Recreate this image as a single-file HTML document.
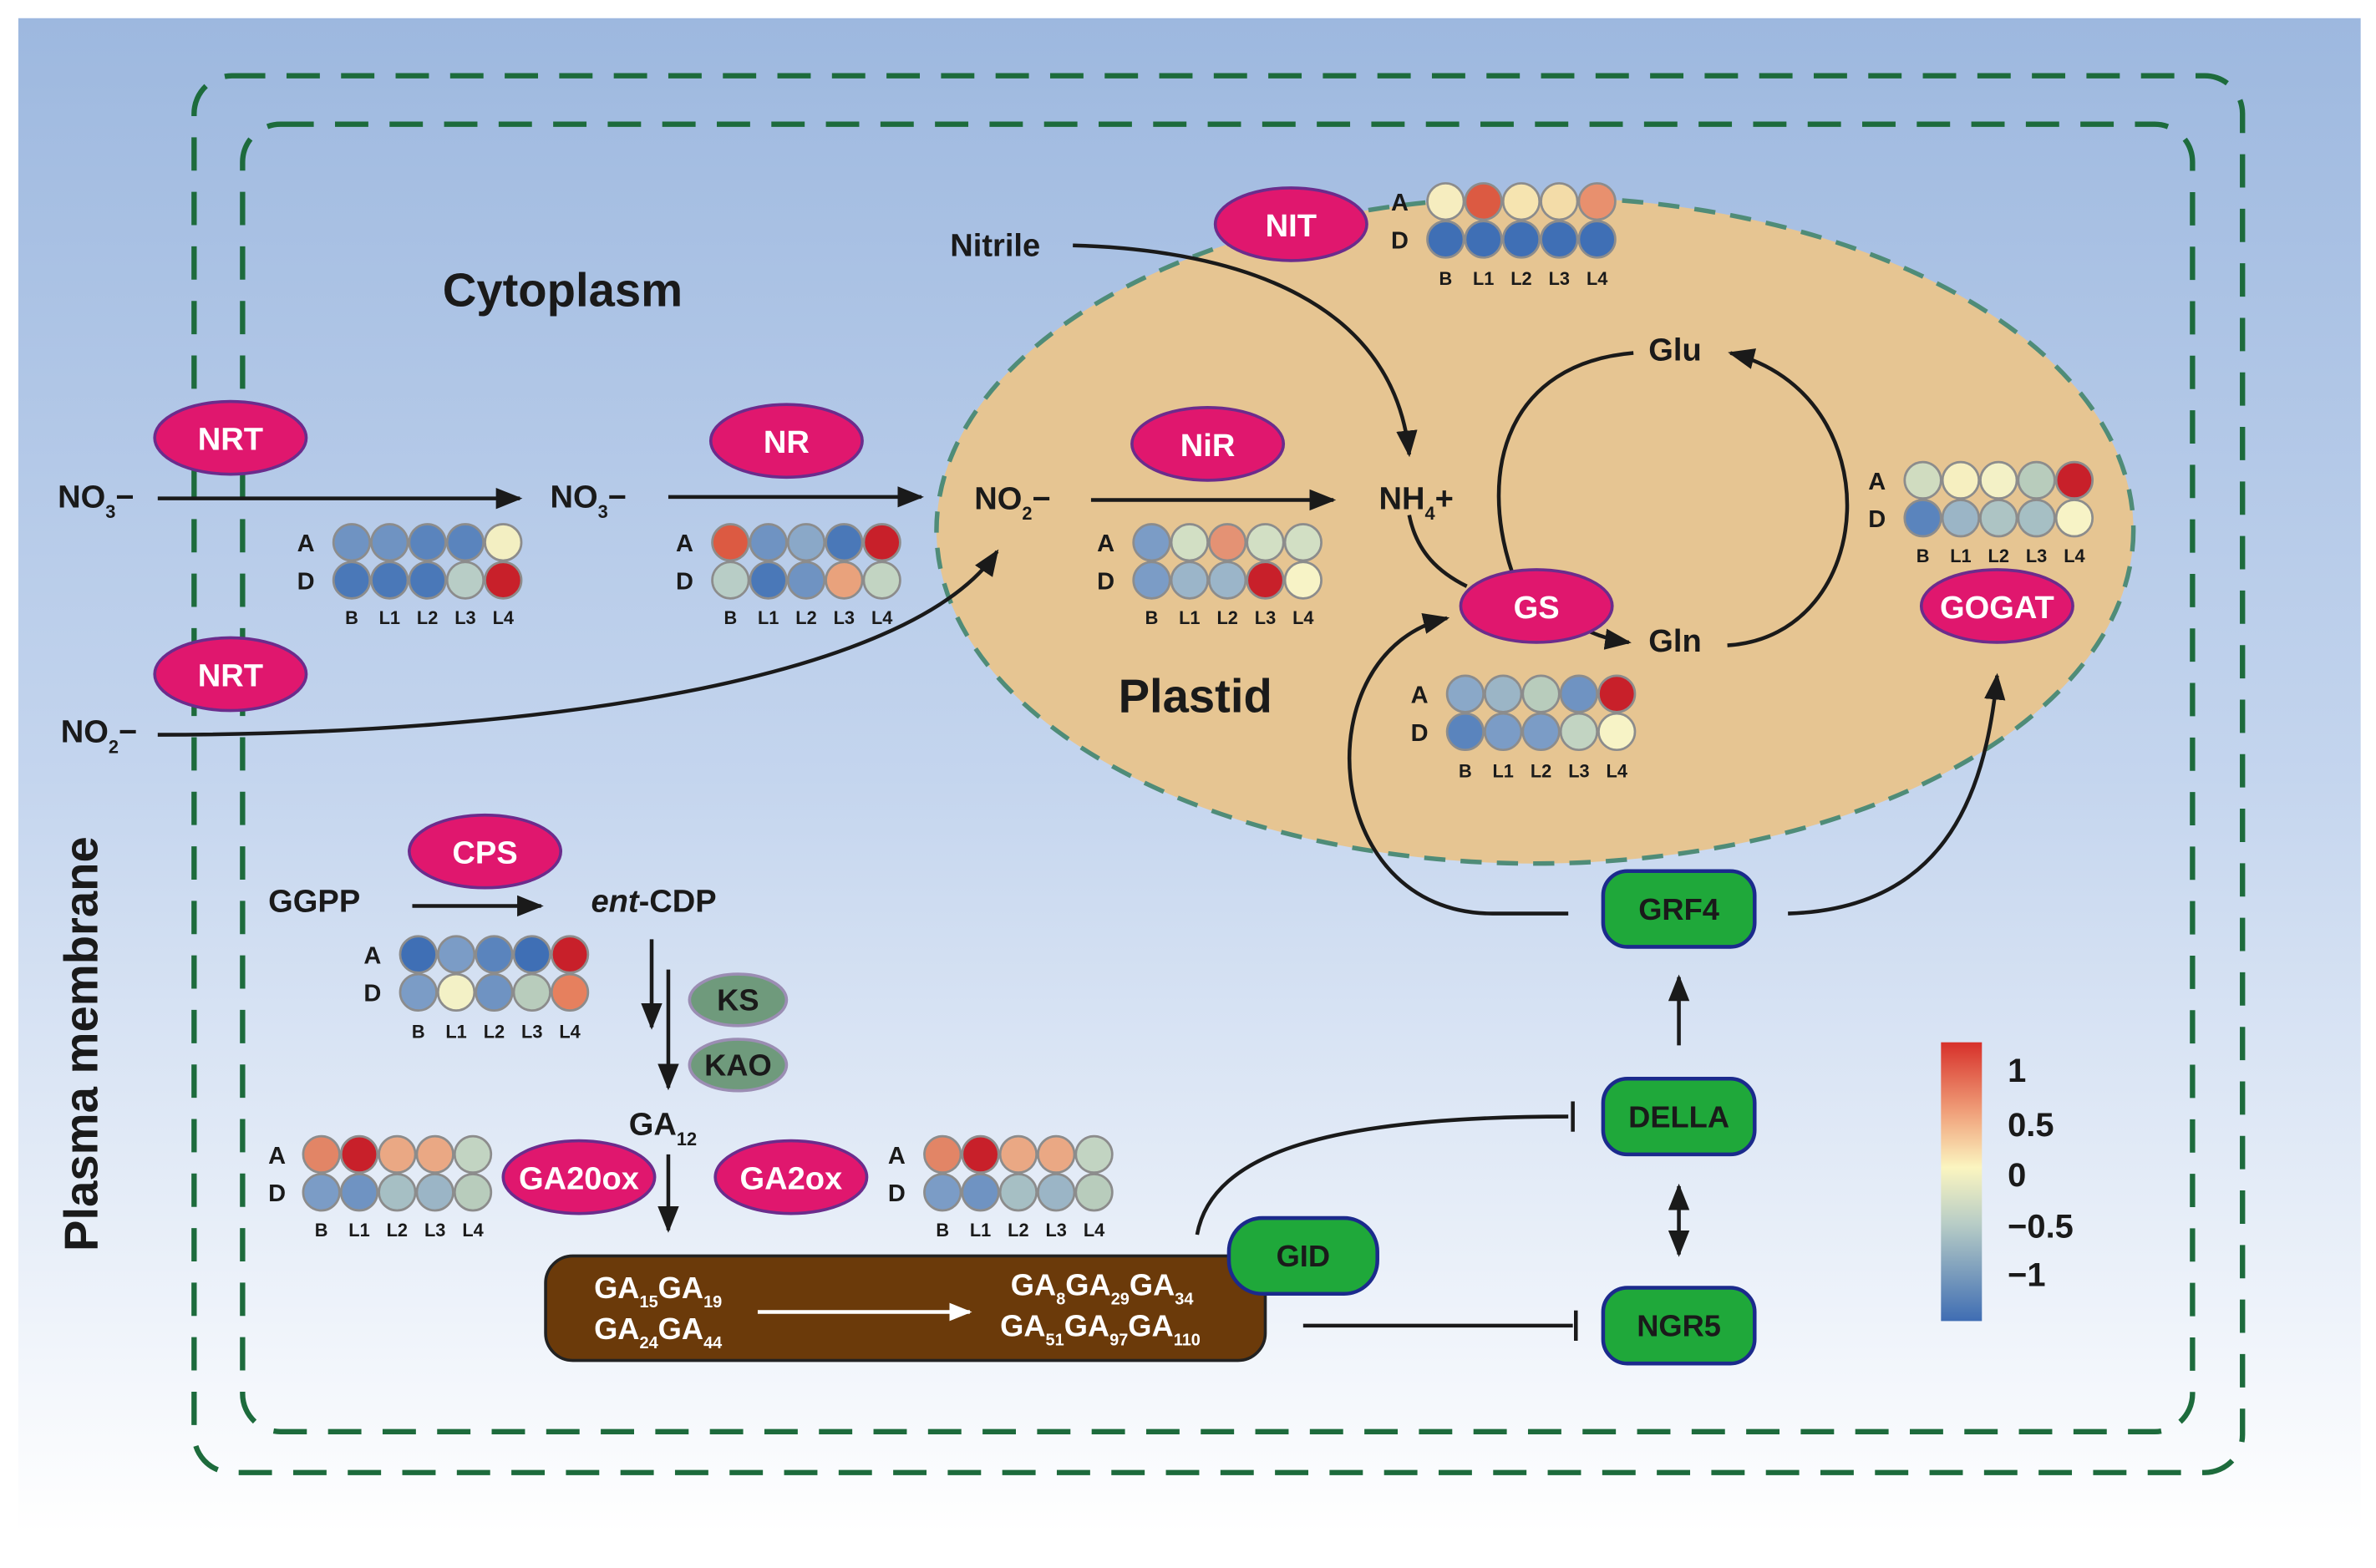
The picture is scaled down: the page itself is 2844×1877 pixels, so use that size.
<!DOCTYPE html>
<html><head><meta charset="utf-8"><style>
html,body{margin:0;padding:0;background:#fff;}
svg{display:block;font-family:"Liberation Sans",sans-serif;}
.t{font-weight:bold;fill:#1a1a1a;}
.w{font-weight:bold;fill:#fff;}
.l{font-weight:bold;fill:#1a1a1a;font-size:12px;}
.c circle{stroke:#8c8c8c;stroke-width:1.5;}
</style></head><body>
<svg width="2844" height="1877" viewBox="0 0 1568 1035" xmlns="http://www.w3.org/2000/svg">
<defs>
<linearGradient id="bg" x1="0" y1="0" x2="0" y2="1">
<stop offset="0" stop-color="#9db8df"/><stop offset="0.5" stop-color="#c4d5ee"/><stop offset="1" stop-color="#ffffff"/>
</linearGradient>
<linearGradient id="cb" x1="0" y1="0" x2="0" y2="1">
<stop offset="0" stop-color="#d7302a"/><stop offset="0.25" stop-color="#f0a07a"/><stop offset="0.45" stop-color="#fbf5c0"/><stop offset="0.65" stop-color="#b8cdc6"/><stop offset="1" stop-color="#3f6db3"/>
</linearGradient>
<marker id="ar" viewBox="0 0 10 10" refX="9" refY="5" markerWidth="7" markerHeight="7" orient="auto-start-reverse"><path d="M0,1 L10,5 L0,9 z" fill="#1a1a1a"/></marker>
<marker id="aw" viewBox="0 0 10 10" refX="9" refY="5" markerWidth="6" markerHeight="6" orient="auto"><path d="M0,1 L10,5 L0,9 z" fill="#fff"/></marker>
</defs>
<rect x="0" y="0" width="1568" height="1035" fill="#fff"/>
<rect x="12" y="12" width="1546" height="1000" fill="url(#bg)"/>
<ellipse cx="1013" cy="350" rx="395" ry="220" fill="#e6c592" stroke="#4f8c78" stroke-width="3" stroke-dasharray="14 10"/>
<rect x="128" y="50" width="1352" height="922" rx="25" fill="none" stroke="#1d6b3c" stroke-width="3.5" stroke-dasharray="22 14"/>
<rect x="160" y="82" width="1287" height="863" rx="25" fill="none" stroke="#1d6b3c" stroke-width="3.5" stroke-dasharray="22 14"/>
<text class="t" x="292" y="202" font-size="31">Cytoplasm</text>
<text class="t" x="738" y="470" font-size="31">Plastid</text>
<text class="t" font-size="31" transform="translate(64,826) rotate(-90)">Plasma membrane</text>

<g stroke="#1a1a1a" stroke-width="2.5" fill="none">
<line x1="104" y1="329" x2="343" y2="329" marker-end="url(#ar)"/>
<line x1="441" y1="328" x2="608" y2="328" marker-end="url(#ar)"/>
<line x1="720" y1="330" x2="880" y2="330" marker-end="url(#ar)"/>
<path d="M104,485 C350,485 600,450 658,364" marker-end="url(#ar)"/>
<path d="M708,162 C820,165 920,200 930,300" marker-end="url(#ar)"/>
<path d="M930,340 C935,365 950,378 968,387"/>
<path d="M1040,412 C1050,418 1060,422 1075,424" marker-end="url(#ar)"/>
<path d="M998,378 C975,310 995,240 1078,233"/>
<path d="M1140,426 C1240,420 1250,260 1142,233" marker-end="url(#ar)"/>
<path d="M1035,603 L985,603 C870,603 860,430 955,408" marker-end="url(#ar)"/>
<path d="M1180,603 C1280,600 1310,530 1318,446" marker-end="url(#ar)"/>
<line x1="272" y1="598" x2="357" y2="598" marker-end="url(#ar)"/>
<line x1="430" y1="620" x2="430" y2="678" marker-end="url(#ar)"/>
<line x1="441" y1="640" x2="441" y2="718" marker-end="url(#ar)"/>
<line x1="441" y1="762" x2="441" y2="812" marker-end="url(#ar)"/>
<line x1="1108" y1="690" x2="1108" y2="645" marker-end="url(#ar)"/>
<line x1="1108" y1="783" x2="1108" y2="828" marker-start="url(#ar)" marker-end="url(#ar)"/>
<path d="M790,815 C800,760 880,737 1035,737"/>
<line x1="1038" y1="727" x2="1038" y2="747"/>
<line x1="860" y1="875" x2="1038" y2="875"/>
<line x1="1040" y1="865" x2="1040" y2="885"/>
</g>

<g class="t" font-size="21">
<text x="38" y="335">NO<tspan font-size="12" dy="7">3</tspan><tspan dy="-7">−</tspan></text>
<text x="363" y="335">NO<tspan font-size="12" dy="7">3</tspan><tspan dy="-7">−</tspan></text>
<text x="643" y="336">NO<tspan font-size="12" dy="7">2</tspan><tspan dy="-7">−</tspan></text>
<text x="40" y="490">NO<tspan font-size="12" dy="7">2</tspan><tspan dy="-7">−</tspan></text>
<text x="910" y="336">NH<tspan font-size="12" dy="7">4</tspan><tspan dy="-7">+</tspan></text>
<text x="627" y="169">Nitrile</text>
<text x="1088" y="238">Glu</text>
<text x="1088" y="430">Gln</text>
<text x="177" y="602">GGPP</text>
<text x="390" y="602"><tspan font-style="italic">ent</tspan>-CDP</text>
<text x="415" y="749">GA<tspan font-size="12" dy="7">12</tspan></text>
</g>

<g fill="#e0176e" stroke="#6b2c8c" stroke-width="2">
<ellipse cx="152" cy="289" rx="50" ry="24"/>
<ellipse cx="152" cy="445" rx="50" ry="24"/>
<ellipse cx="519" cy="291" rx="50" ry="24"/>
<ellipse cx="797" cy="293" rx="50" ry="24"/>
<ellipse cx="852" cy="148" rx="50" ry="24"/>
<ellipse cx="1014" cy="400" rx="50" ry="24"/>
<ellipse cx="1318" cy="400" rx="50" ry="24"/>
<ellipse cx="320" cy="562" rx="50" ry="24"/>
<ellipse cx="382" cy="777" rx="50" ry="24"/>
<ellipse cx="522" cy="777" rx="50" ry="24"/>
</g>
<g fill="#6f9a7c" stroke="#9b8db3" stroke-width="2">
<ellipse cx="487" cy="660" rx="32" ry="17"/>
<ellipse cx="487" cy="703" rx="32" ry="17"/>
</g>
<g class="w" font-size="21" text-anchor="middle">
<text x="152" y="297">NRT</text><text x="152" y="453">NRT</text>
<text x="519" y="299">NR</text><text x="797" y="301">NiR</text>
<text x="852" y="156">NIT</text><text x="1014" y="408">GS</text>
<text x="1318" y="408">GOGAT</text><text x="320" y="570">CPS</text>
<text x="382" y="785">GA20ox</text><text x="522" y="785">GA2ox</text>
</g>
<g class="t" font-size="20" text-anchor="middle">
<text x="487" y="667">KS</text><text x="487" y="710">KAO</text>
</g>

<rect x="360" y="829" width="475" height="69" rx="18" fill="#6b3a0a" stroke="#222" stroke-width="2"/>
<g class="w" font-size="20">
<text x="392" y="857">GA<tspan font-size="11" dy="6">15</tspan><tspan dy="-6">GA</tspan><tspan font-size="11" dy="6">19</tspan></text>
<text x="392" y="884">GA<tspan font-size="11" dy="6">24</tspan><tspan dy="-6">GA</tspan><tspan font-size="11" dy="6">44</tspan></text>
<text x="667" y="855">GA<tspan font-size="11" dy="6">8</tspan><tspan dy="-6">GA</tspan><tspan font-size="11" dy="6">29</tspan><tspan dy="-6">GA</tspan><tspan font-size="11" dy="6">34</tspan></text>
<text x="660" y="882">GA<tspan font-size="11" dy="6">51</tspan><tspan dy="-6">GA</tspan><tspan font-size="11" dy="6">97</tspan><tspan dy="-6">GA</tspan><tspan font-size="11" dy="6">110</tspan></text>
</g>
<line x1="500" y1="866" x2="640" y2="866" stroke="#fff" stroke-width="2.5" marker-end="url(#aw)"/>

<g fill="#1fa83a" stroke="#1b2a8c" stroke-width="2.5">
<rect x="1058" y="575" width="100" height="50" rx="16"/>
<rect x="1058" y="712" width="100" height="50" rx="16"/>
<rect x="1058" y="850" width="100" height="50" rx="16"/>
<rect x="811" y="804" width="98" height="50" rx="22"/>
</g>
<g class="t" font-size="20" text-anchor="middle">
<text x="1108" y="607">GRF4</text><text x="1108" y="744">DELLA</text>
<text x="1108" y="882">NGR5</text><text x="860" y="836">GID</text>
</g>

<rect x="1281" y="688" width="27" height="184" fill="url(#cb)"/>
<g class="t" font-size="22">
<text x="1325" y="714">1</text><text x="1325" y="750">0.5</text><text x="1325" y="783">0</text>
<text x="1325" y="817">−0.5</text><text x="1325" y="849">−1</text>
</g>

<g class="c">
<g transform="translate(232,358)">
<circle cx="0" cy="0" r="12" fill="#6f93c2"/><circle cx="25" cy="0" r="12" fill="#6f93c2"/><circle cx="50" cy="0" r="12" fill="#5a84bd"/><circle cx="75" cy="0" r="12" fill="#5a84bd"/><circle cx="100" cy="0" r="12" fill="#f3efc2"/>
<circle cx="0" cy="25" r="12" fill="#4a78b8"/><circle cx="25" cy="25" r="12" fill="#4a78b8"/><circle cx="50" cy="25" r="12" fill="#4a78b8"/><circle cx="75" cy="25" r="12" fill="#b8cdc6"/><circle cx="100" cy="25" r="12" fill="#c8202a"/>
</g>
<g transform="translate(482,358)">
<circle cx="0" cy="0" r="12" fill="#dc5a42"/><circle cx="25" cy="0" r="12" fill="#6f93c2"/><circle cx="50" cy="0" r="12" fill="#8aa8c8"/><circle cx="75" cy="0" r="12" fill="#4a78b8"/><circle cx="100" cy="0" r="12" fill="#c8202a"/>
<circle cx="0" cy="25" r="12" fill="#b8cdc6"/><circle cx="25" cy="25" r="12" fill="#4a78b8"/><circle cx="50" cy="25" r="12" fill="#6f93c2"/><circle cx="75" cy="25" r="12" fill="#e9a27c"/><circle cx="100" cy="25" r="12" fill="#c2d4c2"/>
</g>
<g transform="translate(760,358)">
<circle cx="0" cy="0" r="12" fill="#7b9cc6"/><circle cx="25" cy="0" r="12" fill="#d2dfc4"/><circle cx="50" cy="0" r="12" fill="#e49274"/><circle cx="75" cy="0" r="12" fill="#d2dfc4"/><circle cx="100" cy="0" r="12" fill="#d2dfc4"/>
<circle cx="0" cy="25" r="12" fill="#7b9cc6"/><circle cx="25" cy="25" r="12" fill="#9bb5c9"/><circle cx="50" cy="25" r="12" fill="#9bb5c9"/><circle cx="75" cy="25" r="12" fill="#c8202a"/><circle cx="100" cy="25" r="12" fill="#f7f3c6"/>
</g>
<g transform="translate(954,133)">
<circle cx="0" cy="0" r="12" fill="#f6edbf"/><circle cx="25" cy="0" r="12" fill="#dc5a42"/><circle cx="50" cy="0" r="12" fill="#f6e4b0"/><circle cx="75" cy="0" r="12" fill="#f3dca8"/><circle cx="100" cy="0" r="12" fill="#e8906e"/>
<circle cx="0" cy="25" r="12" fill="#3f6fb5"/><circle cx="25" cy="25" r="12" fill="#3f6fb5"/><circle cx="50" cy="25" r="12" fill="#3f6fb5"/><circle cx="75" cy="25" r="12" fill="#3f6fb5"/><circle cx="100" cy="25" r="12" fill="#3f6fb5"/>
</g>
<g transform="translate(1269,317)">
<circle cx="0" cy="0" r="12" fill="#d0dcc0"/><circle cx="25" cy="0" r="12" fill="#f6efc0"/><circle cx="50" cy="0" r="12" fill="#f3f1c6"/><circle cx="75" cy="0" r="12" fill="#b8ccbc"/><circle cx="100" cy="0" r="12" fill="#c8202a"/>
<circle cx="0" cy="25" r="12" fill="#5a84bd"/><circle cx="25" cy="25" r="12" fill="#9bb5c6"/><circle cx="50" cy="25" r="12" fill="#adc4c4"/><circle cx="75" cy="25" r="12" fill="#a6bfc4"/><circle cx="100" cy="25" r="12" fill="#f7f3c6"/>
</g>
<g transform="translate(967,458)">
<circle cx="0" cy="0" r="12" fill="#8aa8c8"/><circle cx="25" cy="0" r="12" fill="#9bb5c6"/><circle cx="50" cy="0" r="12" fill="#b8ccbc"/><circle cx="75" cy="0" r="12" fill="#6f93c2"/><circle cx="100" cy="0" r="12" fill="#c8202a"/>
<circle cx="0" cy="25" r="12" fill="#5a84bd"/><circle cx="25" cy="25" r="12" fill="#7b9cc6"/><circle cx="50" cy="25" r="12" fill="#7b9cc6"/><circle cx="75" cy="25" r="12" fill="#c2d4c2"/><circle cx="100" cy="25" r="12" fill="#f7f3c6"/>
</g>
<g transform="translate(276,630)">
<circle cx="0" cy="0" r="12" fill="#3f6fb5"/><circle cx="25" cy="0" r="12" fill="#7b9cc6"/><circle cx="50" cy="0" r="12" fill="#5a84bd"/><circle cx="75" cy="0" r="12" fill="#3f6fb5"/><circle cx="100" cy="0" r="12" fill="#c8202a"/>
<circle cx="0" cy="25" r="12" fill="#7b9cc6"/><circle cx="25" cy="25" r="12" fill="#f3f1c6"/><circle cx="50" cy="25" r="12" fill="#6f93c2"/><circle cx="75" cy="25" r="12" fill="#b8ccbc"/><circle cx="100" cy="25" r="12" fill="#e6805e"/>
</g>
<g transform="translate(212,762)">
<circle cx="0" cy="0" r="12" fill="#e28566"/><circle cx="25" cy="0" r="12" fill="#c8202a"/><circle cx="50" cy="0" r="12" fill="#eaa884"/><circle cx="75" cy="0" r="12" fill="#eaa884"/><circle cx="100" cy="0" r="12" fill="#c2d4c2"/>
<circle cx="0" cy="25" r="12" fill="#7b9cc6"/><circle cx="25" cy="25" r="12" fill="#6f93c2"/><circle cx="50" cy="25" r="12" fill="#a6bfc4"/><circle cx="75" cy="25" r="12" fill="#9bb5c6"/><circle cx="100" cy="25" r="12" fill="#b8ccbc"/>
</g>
<g transform="translate(622,762)">
<circle cx="0" cy="0" r="12" fill="#e28566"/><circle cx="25" cy="0" r="12" fill="#c8202a"/><circle cx="50" cy="0" r="12" fill="#eaa884"/><circle cx="75" cy="0" r="12" fill="#eaa884"/><circle cx="100" cy="0" r="12" fill="#c2d4c2"/>
<circle cx="0" cy="25" r="12" fill="#7b9cc6"/><circle cx="25" cy="25" r="12" fill="#6f93c2"/><circle cx="50" cy="25" r="12" fill="#a6bfc4"/><circle cx="75" cy="25" r="12" fill="#9bb5c6"/><circle cx="100" cy="25" r="12" fill="#b8ccbc"/>
</g>
</g>
<g class="t" font-size="16">
<text x="196" y="364">A</text><text x="196" y="389">D</text>
<text x="446" y="364">A</text><text x="446" y="389">D</text>
<text x="724" y="364">A</text><text x="724" y="389">D</text>
<text x="918" y="139">A</text><text x="918" y="164">D</text>
<text x="1233" y="323">A</text><text x="1233" y="348">D</text>
<text x="931" y="464">A</text><text x="931" y="489">D</text>
<text x="240" y="636">A</text><text x="240" y="661">D</text>
<text x="177" y="768">A</text><text x="177" y="793">D</text>
<text x="586" y="768">A</text><text x="586" y="793">D</text>
</g>
<g class="l" text-anchor="middle">
<g transform="translate(232,412)"><text x="0">B</text><text x="25">L1</text><text x="50">L2</text><text x="75">L3</text><text x="100">L4</text></g>
<g transform="translate(482,412)"><text x="0">B</text><text x="25">L1</text><text x="50">L2</text><text x="75">L3</text><text x="100">L4</text></g>
<g transform="translate(760,412)"><text x="0">B</text><text x="25">L1</text><text x="50">L2</text><text x="75">L3</text><text x="100">L4</text></g>
<g transform="translate(954,188)"><text x="0">B</text><text x="25">L1</text><text x="50">L2</text><text x="75">L3</text><text x="100">L4</text></g>
<g transform="translate(1269,371)"><text x="0">B</text><text x="25">L1</text><text x="50">L2</text><text x="75">L3</text><text x="100">L4</text></g>
<g transform="translate(967,513)"><text x="0">B</text><text x="25">L1</text><text x="50">L2</text><text x="75">L3</text><text x="100">L4</text></g>
<g transform="translate(276,685)"><text x="0">B</text><text x="25">L1</text><text x="50">L2</text><text x="75">L3</text><text x="100">L4</text></g>
<g transform="translate(212,816)"><text x="0">B</text><text x="25">L1</text><text x="50">L2</text><text x="75">L3</text><text x="100">L4</text></g>
<g transform="translate(622,816)"><text x="0">B</text><text x="25">L1</text><text x="50">L2</text><text x="75">L3</text><text x="100">L4</text></g>
</g>
</svg>
</body></html>
